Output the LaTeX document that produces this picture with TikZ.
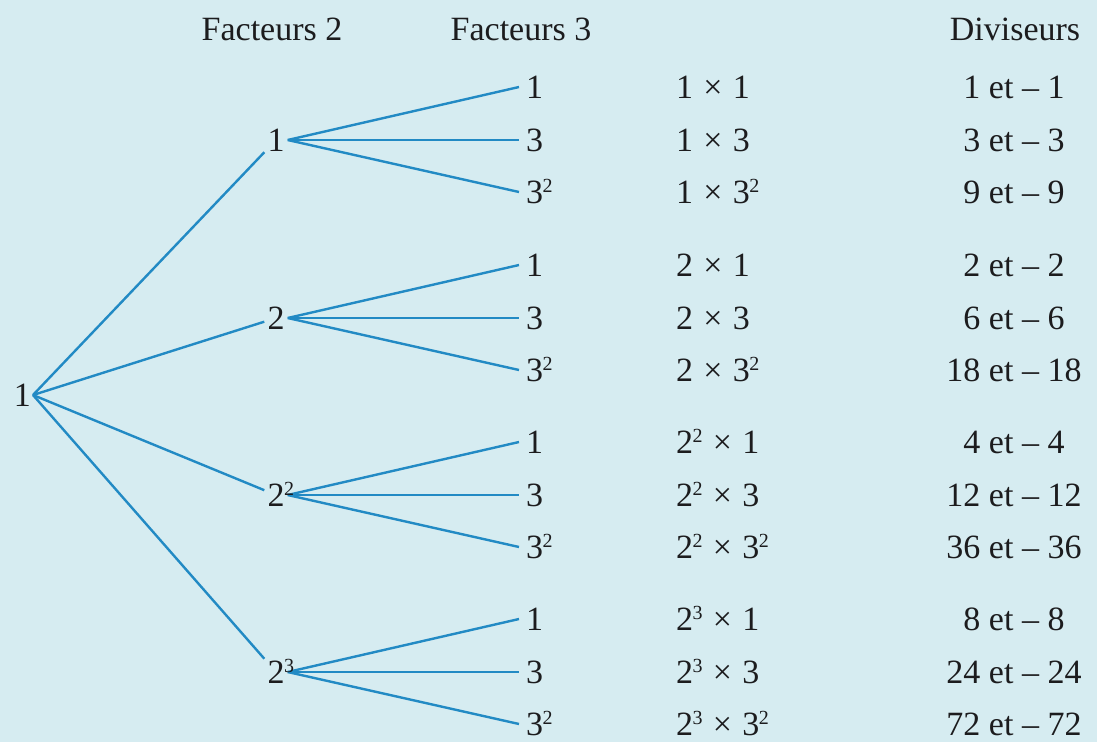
\documentclass[tikz,border=0pt]{standalone}
\usepackage{fontspec}
\setmainfont{Liberation Serif}
\newfontfamily\timesface{Liberation Serif}
\usetikzlibrary{backgrounds}
\definecolor{panel}{RGB}{214,236,241}
\definecolor{branchblue}{RGB}{34,138,196}
\definecolor{ink}{RGB}{28,28,30}
% small raised exponent
\newcommand{\pw}[1]{\kern-0.5pt\raisebox{11pt}{\fontsize{20}{20}\selectfont #1}}
% spacing around the multiplication sign
\newcommand{\tms}{\hspace{0.3em}×\hspace{0.3em}}
\begin{document}
\begin{tikzpicture}[x=1pt,y=1pt,
  every node/.style={font=\timesface\fontsize{34}{40}\selectfont, text=ink,
    text height=23pt, text depth=0pt, inner ysep=3pt},
  branch/.style={draw=branchblue, line width=2.4pt},
  lvl/.style={inner xsep=3pt},
  leaf/.style={anchor=west, inner xsep=7pt},
  prod/.style={anchor=west, inner xsep=3pt},
  head/.style={anchor=base, text height=, text depth=}]
\useasboundingbox (0,0) rectangle (1097,-742);
\begin{scope}[on background layer]
  \fill[panel] (0,0) rectangle (1097,-742);
\end{scope}

% column titles
\node[head] (h2) at (272,-40) {Facteurs 2};
\node[head] (h3) at (521,-40) {Facteurs 3};
\node[head] (hd) at (1015,-40) {Diviseurs};

% root and powers of 2
\node[anchor=east, inner xsep=2pt] (r) at (33,-395) {1};
\node[lvl] (a1) at (276,-140) {1};
\node[lvl] (a2) at (276,-318) {2};
\node[lvl] (a3) at (276,-495) {2\rlap{\pw{2}}};
\node[lvl] (a4) at (276,-672) {2\rlap{\pw{3}}};

\foreach \g/\gy/\pre/\da/\db/\dc in
  {1/140/1/1/3/9, 2/318/2/2/6/18, 3/495/2\pw{2}/4/12/36, 4/672/2\pw{3}/8/24/72} {
  % powers of 3
  \node[leaf] (l\g a) at (519,-\gy+53) {1};
  \node[leaf] (l\g b) at (519,-\gy) {3};
  \node[leaf] (l\g c) at (519,-\gy-52) {3\pw{2}};
  % products
  \node[prod] (p\g a) at (673,-\gy+53) {\pre\tms 1};
  \node[prod] (p\g b) at (673,-\gy) {\pre\tms 3};
  \node[prod] (p\g c) at (673,-\gy-52) {\pre\tms 3\pw{2}};
  % divisors
  \node (d\g a) at (1014,-\gy+53) {\da{} et – \da};
  \node (d\g b) at (1014,-\gy) {\db{} et – \db};
  \node (d\g c) at (1014,-\gy-52) {\dc{} et – \dc};
  % branches
  \begin{scope}[on background layer]
    \draw[branch] (r.east) -- (a\g);
    \draw[branch] (a\g.east) -- (l\g a.west);
    \draw[branch] (a\g.east) -- (l\g b.west);
    \draw[branch] (a\g.east) -- (l\g c.west);
  \end{scope}
}
\end{tikzpicture}
\end{document}
